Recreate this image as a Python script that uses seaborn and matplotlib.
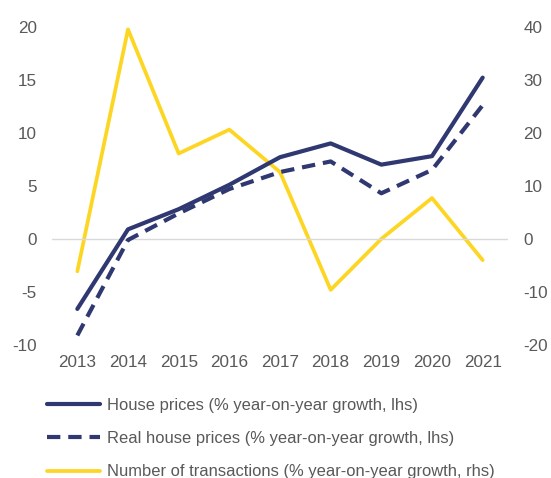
import pandas as pd
import seaborn as sns
import matplotlib.pyplot as plt

years = [2013, 2014, 2015, 2016, 2017, 2018, 2019, 2020, 2021]
house_prices = [-6.6, 0.9, 2.8, 5.1, 7.7, 9.0, 7.0, 7.8, 15.2]
real_house_prices = [-9.1, -0.1, 2.4, 4.7, 6.3, 7.3, 4.3, 6.5, 12.6]
transactions = [-6.1, 39.5, 16.1, 20.6, 12.6, -9.6, 0.0, 7.7, -4.0]

left_ticks = [-10, -5, 0, 5, 10, 15, 20]
right_ticks = [-20, -10, 0, 10, 20, 30, 40]

NAVY = '#2f3870'
YELLOW = '#fdd624'
GREY = '#595959'


def main():
    sns.set_style('white')
    plt.rcParams['font.family'] = ['Liberation Sans', 'DejaVu Sans']
    plt.rcParams['axes.unicode_minus'] = False

    df = pd.DataFrame({'year': years, 'house': house_prices,
                       'real': real_house_prices, 'trans': transactions})

    fig = plt.figure(figsize=(5.51, 4.78), dpi=100)
    ax = fig.add_axes([52 / 551, 1 - 345 / 478, 456 / 551, (345 - 26.7) / 478])
    ax2 = ax.twinx()

    sns.lineplot(x='year', y='trans', data=df, ax=ax2, color=YELLOW, linewidth=2.7,
                 label='Number of transactions (% year-on-year growth, rhs)', legend=False)
    sns.lineplot(x='year', y='house', data=df, ax=ax, color=NAVY, linewidth=3.0,
                 label='House prices (% year-on-year growth, lhs)', legend=False)
    sns.lineplot(x='year', y='real', data=df, ax=ax, color=NAVY, linewidth=3.0,
                 linestyle=(0, (3.2, 1.9)),
                 label='Real house prices (% year-on-year growth, lhs)', legend=False)

    # left axis on top so navy lines draw above yellow
    ax.set_zorder(ax2.get_zorder() + 1)
    ax.patch.set_visible(False)

    ax.axhline(0, color='#d9d9d9', linewidth=1, zorder=0)

    ax.set_xlim(2012.5, 2021.5)
    ax.set_ylim(-10, 20)
    ax2.set_ylim(-20, 40)
    ax.set_xticks(years)
    ax.set_xticklabels([str(y) for y in years])
    ax.set_yticks(left_ticks)
    ax2.set_yticks(right_ticks)
    ax.set_xlabel('')
    ax.set_ylabel('')
    ax2.set_ylabel('')

    for a in (ax, ax2):
        for s in a.spines.values():
            s.set_visible(False)
        a.tick_params(length=0, labelsize=12.3, colors=GREY)
    ax.tick_params(axis='y', pad=11)
    ax2.tick_params(axis='y', pad=11)
    ax.tick_params(axis='x', pad=7)

    h1, l1 = ax.get_legend_handles_labels()
    h2, l2 = ax2.get_legend_handles_labels()
    fig.legend(h1 + h2, l1 + l2, loc='upper left', bbox_to_anchor=(47 / 551, 1 - 398 / 478),
               frameon=False, fontsize=11.9, labelcolor=GREY, handlelength=3.2,
               handletextpad=0.43, labelspacing=1.1, borderpad=0, borderaxespad=0)

    fig.savefig('out.png', dpi=100)


if __name__ == '__main__':
    main()
